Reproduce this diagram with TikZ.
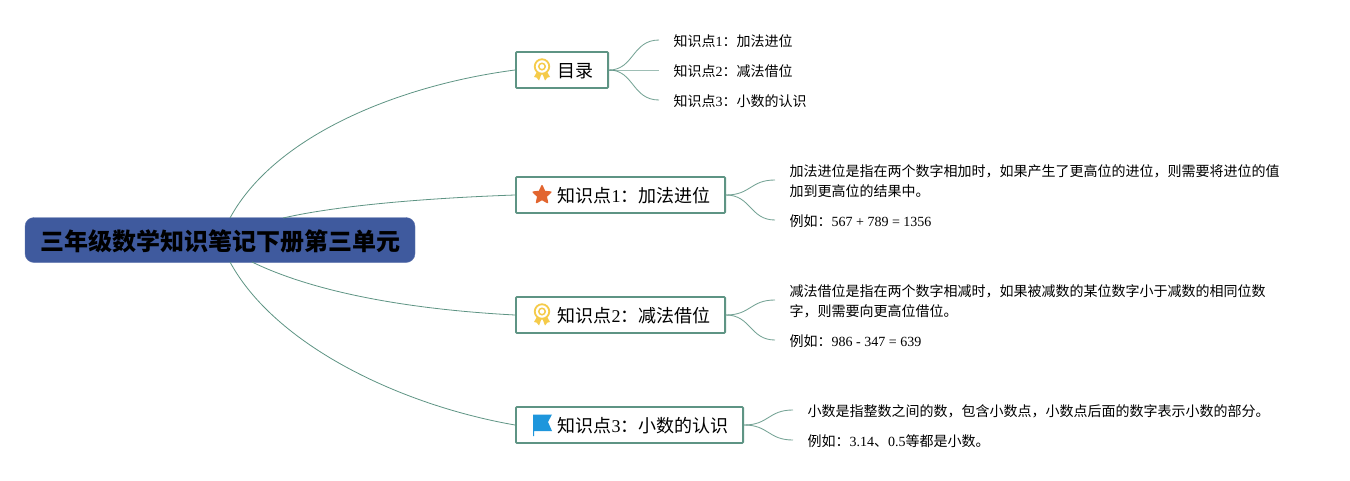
\documentclass[tikz,border=0pt]{standalone}
\usepackage{fontspec}
\usetikzlibrary{shapes.geometric}
\setmainfont{Noto Sans CJK SC}
\newfontfamily\latinfont{Liberation Serif}
\newcommand{\lt}[1]{{\latinfont #1}}
\newcommand{\qcolon}{\char"FF1A\relax}
\newcommand{\qcomma}{\char"FF0C\relax}
\newcommand{\lowered}[2]{\raisebox{-#1}[0pt][0pt]{#2}}
\definecolor{linkc}{HTML}{5E9484}
\definecolor{rootc}{HTML}{3F5A9E}
\definecolor{medalc}{HTML}{F5CB4A}
\definecolor{starc}{HTML}{E2652F}
\definecolor{flagc}{HTML}{1E96DC}
\tikzset{
  rootbox/.style={draw=rootc!85!white,fill=rootc,rounded corners=9pt,minimum width=390pt,minimum height=45pt,inner sep=0pt,font=\fontsize{24}{24}\selectfont\bfseries,text=black},
  topicbox/.style={draw=linkc,line width=1.8pt,rounded corners=1pt,fill=white,minimum height=36pt,inner ysep=0pt,inner xsep=14.6pt,anchor=west,font=\fontsize{18}{18}\selectfont},
  leaf/.style={anchor=west,inner xsep=14.5pt,inner ysep=0pt,align=left,font=\fontsize{14}{20}\selectfont},
  mainlink/.style={draw=linkc,line width=0.8pt},
  sublink/.style={draw=linkc,line width=0.85pt,draw opacity=0.85},
  iconnode/.style={inner sep=0pt,minimum size=0pt}
}
\newcommand{\medal}[3]{%
  \begin{scope}[shift={(#1,#2)}]
    \fill[medalc] (-4,0) -- (-8,7) -- (-5.5,7.5) -- (-3,10.5) -- (-0.5,4) -- cycle;
    \fill[medalc] (4,0) -- (8,7) -- (5.5,7.5) -- (3,10.5) -- (0.5,4) -- cycle;
    \node[iconnode,circle,draw=medalc,line width=1.8pt,fill=white,minimum size=14.5pt] (#3) at (0,-3.5) {};
    \node[iconnode,circle,draw=medalc,line width=1.5pt,fill=white,minimum size=6.5pt] at (#3.center) {};
  \end{scope}}
\begin{document}
\begin{tikzpicture}[x=1pt,y=-1pt]
\useasboundingbox (0,0) rectangle (1350,480);
\fill[white] (0,0) rectangle (1350,480);

\node[rootbox] (root) at (220,240) {\lowered{10.4pt}{\kern1pt 三年级数学知识笔记下册第三单元}};
\coordinate (r0) at (230,218);
\coordinate (r1) at (283,218);
\coordinate (r2) at (252,262);
\coordinate (r3) at (230,262);

\node[topicbox] (t0) at (515,70) {\hspace*{27pt}\lowered{7.8pt}{目录}};
\node[topicbox] (t1) at (515,195) {\hspace*{27pt}\lowered{7.8pt}{知识点\lt{1}\qcolon 加法进位}};
\node[topicbox] (t2) at (515,315) {\hspace*{27pt}\lowered{7.8pt}{知识点\lt{2}\qcolon 减法借位}};
\node[topicbox] (t3) at (515,425) {\hspace*{27pt}\lowered{7.8pt}{知识点\lt{3}\qcolon 小数的认识}};

\draw[mainlink] (r0) .. controls (275,135) and (400,85) .. (t0.west);
\draw[mainlink] (r1) .. controls (340,205) and (430,198) .. (t1.west);
\draw[mainlink] (r2) .. controls (320,295) and (420,310) .. (t2.west);
\draw[mainlink] (r3) .. controls (275,345) and (400,405) .. (t3.west);

\node[leaf] (a1) at (659,41.5) {知识点\lt{1}\qcolon 加法进位};
\node[leaf] (a2) at (659,71.5) {知识点\lt{2}\qcolon 减法借位};
\node[leaf] (a3) at (659,101.5) {知识点\lt{3}\qcolon 小数的认识};
\node[leaf] (b1) at (775,181.5) {加法进位是指在两个数字相加时\qcomma 如果产生了更高位的进位\qcomma 则需要将进位的值\\加到更高位的结果中。};
\node[leaf] (b2) at (775,221.5) {例如\qcolon\lt{567 + 789 = 1356}};
\node[leaf] (c1) at (775,301.5) {减法借位是指在两个数字相减时\qcomma 如果被减数的某位数字小于减数的相同位数\\字\qcomma 则需要向更高位借位。};
\node[leaf] (c2) at (775,341.5) {例如\qcolon\lt{986 - 347 = 639}};
\node[leaf] (d1) at (793,411.5) {小数是指整数之间的数\qcomma 包含小数点\qcomma 小数点后面的数字表示小数的部分。};
\node[leaf] (d2) at (793,441.5) {例如\qcolon\lt{3.14}、\lt{0.5}等都是小数。};

\draw[sublink] (t0.east) .. controls +(25,0) and (632,40) .. ([yshift=1.5pt]a1.west);
\draw[sublink,draw opacity=0.6] (t0.east) -- (a2.west |- t0.east);
\draw[sublink] (t0.east) .. controls +(25,0) and (632,100) .. ([yshift=1.5pt]a3.west);
\draw[sublink] (t1.east) .. controls +(25,0) and (750,180) .. ([yshift=1.5pt]b1.west);
\draw[sublink] (t1.east) .. controls +(25,0) and (750,220) .. ([yshift=1.5pt]b2.west);
\draw[sublink] (t2.east) .. controls +(25,0) and (750,300) .. ([yshift=1.5pt]c1.west);
\draw[sublink] (t2.east) .. controls +(25,0) and (750,340) .. ([yshift=1.5pt]c2.west);
\draw[sublink] (t3.east) .. controls +(25,0) and (768,410) .. ([yshift=1.5pt]d1.west);
\draw[sublink] (t3.east) .. controls +(25,0) and (768,440) .. ([yshift=1.5pt]d2.west);

\medal{542}{70}{i0}
\medal{542}{315}{i2}
\node[iconnode,star,star points=5,star point ratio=2.1,fill=starc,draw=starc,line join=round,line width=1.5pt,minimum size=18.5pt] (i1) at (542,195) {};
\fill[flagc] (533,414.5) -- (552,414.5) -- (548,422) -- (552,431) -- (534,431) -- (534,436) -- (533,436) -- cycle;
\end{tikzpicture}
\end{document}
